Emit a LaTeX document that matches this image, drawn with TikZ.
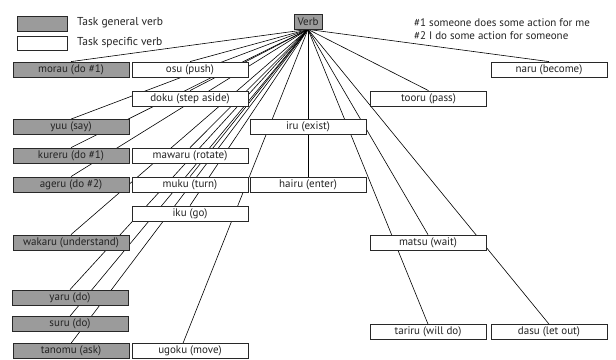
\documentclass[tikz,border=0pt]{standalone}
\usepackage{fontspec}
\setmainfont{PT Sans}
\usetikzlibrary{backgrounds}
\definecolor{gen}{RGB}{155,155,155}
\definecolor{edge}{RGB}{40,40,40}
\definecolor{ink}{RGB}{35,35,35}
\tikzset{
  vbox/.style={draw=edge, line width=0.8pt, minimum width=116pt, minimum height=15pt, inner sep=0pt, text=ink, font=\fontsize{11}{11}\selectfont},
  genbox/.style={vbox, fill=gen},
  specbox/.style={vbox, fill=white},
  link/.style={draw=black, line width=0.6pt},
  txt/.style={anchor=west, inner sep=0pt, text=ink, font=\fontsize{11.5}{12}\selectfont},
  note/.style={txt, font=\fontsize{11}{12}\selectfont}
}
\begin{document}
\begin{tikzpicture}[x=1pt,y=-1pt]
\useasboundingbox (0,0) rectangle (616,359);
% legend
\node[genbox, minimum width=50pt] (lg) at (42,23.5) {};
\node[specbox, minimum width=50pt, minimum height=14pt] (ls) at (42,43) {};
\node[txt] (lgt) at (77,23) {Task general verb};
\node[txt] (lst) at (77,43) {Task specific verb};
\node[note] (n1) at (414,23) {\#1 someone does some action for me};
\node[note] (n2) at (414,36) {\#2 I do some action for someone};
% root
\node[genbox, minimum width=28pt] (verb) at (308,21.5) {Verb};
% general verbs
\node[genbox] (morau) at (71,69.5) {morau (do \#1)};
\node[genbox] (yuu) at (71,127) {yuu (say)};
\node[genbox] (kureru) at (71,155.5) {kureru (do \#1)};
\node[genbox] (ageru) at (71,184.5) {ageru (do \#2)};
\node[genbox] (wakaru) at (71,242.5) {wakaru (understand)};
\node[genbox] (yaru) at (70,297.5) {yaru (do)};
\node[genbox] (suru) at (70,324) {suru (do)};
\node[genbox] (tanomu) at (71,351.2) {tanomu (ask)};
% specific verbs
\node[specbox] (osu) at (190,69.5) {osu (push)};
\node[specbox] (naru) at (549,69.5) {naru (become)};
\node[specbox] (doku) at (190,98.5) {doku (step aside)};
\node[specbox] (tooru) at (428.5,98.5) {tooru (pass)};
\node[specbox] (iru) at (308,126.5) {iru (exist)};
\node[specbox] (mawaru) at (190,155.5) {mawaru (rotate)};
\node[specbox] (muku) at (190,184.5) {muku (turn)};
\node[specbox] (hairu) at (308,184.5) {hairu (enter)};
\node[specbox] (iku) at (190,213.5) {iku (go)};
\node[specbox] (matsu) at (428,242.5) {matsu (wait)};
\node[specbox] (ugoku) at (190,351.2) {ugoku (move)};
\node[specbox] (tariru) at (428,332) {tariru (will do)};
\node[specbox] (dasu) at (549,332) {dasu (let out)};
% connectors
\begin{scope}[on background layer]
\foreach \t in {morau,osu,naru,doku,tooru,yuu,iru,kureru,mawaru,ageru,muku,hairu,iku,wakaru,matsu,yaru,suru,tanomu,tariru,dasu}
  \draw[link] (verb.south) -- (\t.north);
\draw[link] (verb.south) -- ([xshift=-7pt]ugoku.north);
\end{scope}
\end{tikzpicture}
\end{document}
